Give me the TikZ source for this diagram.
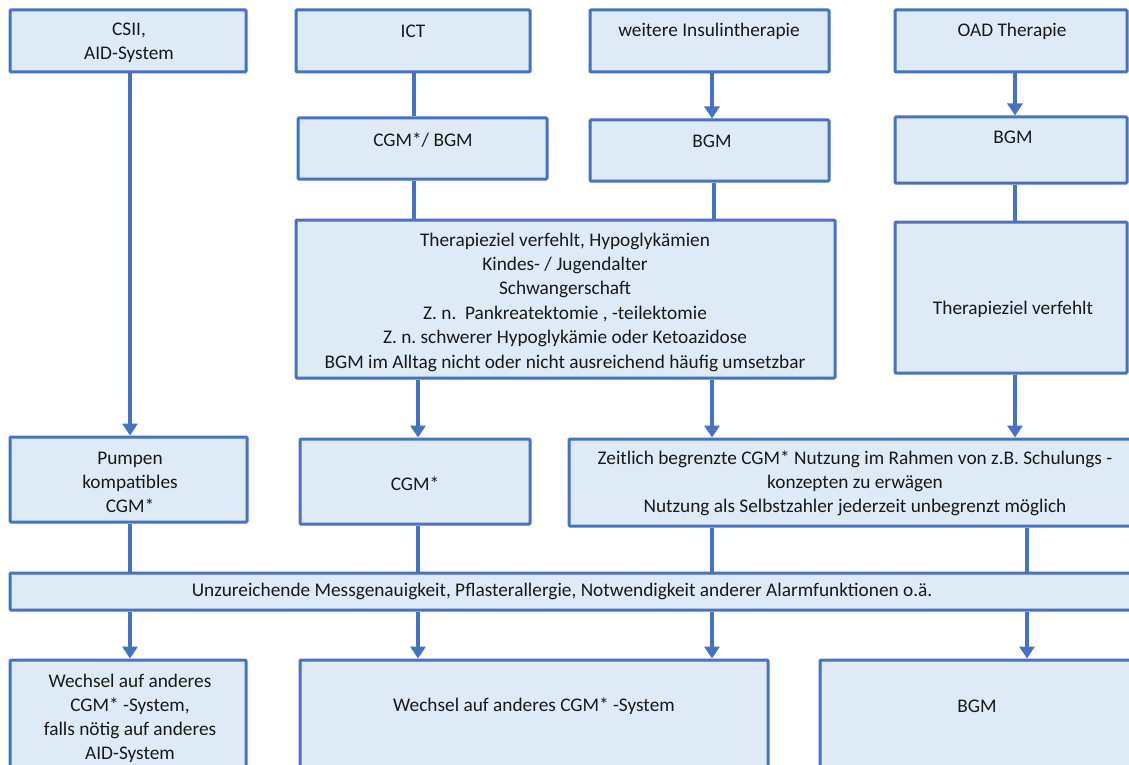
\documentclass[tikz,border=0pt]{standalone}
\usepackage{fontspec}
\setmainfont{Carlito}
\usetikzlibrary{arrows.meta}
\frenchspacing
\definecolor{boxfill}{HTML}{DEEAF6}
\definecolor{boxline}{HTML}{4472C4}
\tikzset{
  box/.style={draw=boxline, fill=boxfill, line width=3pt, rounded corners=1pt, inner sep=0pt},
  txt/.style={align=center, inner sep=0pt, font=\fontsize{19.3}{24}\selectfont\frenchspacing, text=black!90},
  conn/.style={draw=boxline, line width=4pt},
  arr/.style={conn, -{Triangle[width=15pt,length=12pt]}}
}
\begin{document}
\begin{tikzpicture}[x=1pt,y=-1pt]
\useasboundingbox (0,0) rectangle (1129,765);
\clip (0,0) rectangle (1129,765);
% coordinates for connector columns
\coordinate (c130) at (130,0);
\coordinate (c414) at (414,0);
\coordinate (c418) at (418,0);
\coordinate (c712) at (712,0);
\coordinate (c714) at (714,0);
\coordinate (c1015) at (1015,0);
\coordinate (c1027) at (1027,0);
% boxes
\node[box, minimum width=236, minimum height=62] (csii) at (128,41) {};
\node[box, minimum width=234, minimum height=62] (ict) at (413,41) {};
\node[box, minimum width=239, minimum height=62] (wei) at (709.5,41) {};
\node[box, minimum width=232, minimum height=62] (oad) at (1011,41) {};
\node[box, minimum width=249, minimum height=61] (cgmbgm) at (422.5,148.5) {};
\node[box, minimum width=239, minimum height=61] (bgmA) at (709.5,150.5) {};
\node[box, minimum width=232, minimum height=66] (bgmB) at (1011,150) {};
\node[box, minimum width=539, minimum height=158] (big) at (565.5,299) {};
\node[box, minimum width=232, minimum height=151] (ther) at (1011,297.5) {};
\node[box, minimum width=237, minimum height=85] (pump) at (128.5,479.5) {};
\node[box, minimum width=230, minimum height=85] (cgm) at (415,481.5) {};
\node[box, minimum width=571, minimum height=87] (zeit) at (854.5,482.5) {};
\node[box, minimum width=1130, minimum height=37] (bar) at (575,591.5) {};
\node[box, minimum width=236, minimum height=130] (wl) at (128,725) {};
\node[box, minimum width=468, minimum height=130] (wm) at (534,725) {};
\node[box, minimum width=320, minimum height=130] (bgmC) at (980,725) {};
% texts
\node[txt] (t-csii) at (129,43) {CSII,\\AID-System};
\node[txt] (t-ict) at (413,31) {ICT};
\node[txt] (t-wei) at (709,31) {weitere Insulintherapie};
\node[txt] (t-oad) at (1012,31) {OAD Therapie};
\node[txt] (t-cgmbgm) at (423,140) {CGM*/ BGM};
\node[txt] (t-bgmA) at (712,141) {BGM};
\node[txt] (t-bgmB) at (1013,137) {BGM};
\node[txt, font=\fontsize{19.3}{24.4}\selectfont\frenchspacing] (t-big) at (565,302) {Therapieziel verfehlt, Hypoglykämien\\Kindes- / Jugendalter\\Schwangerschaft\\Z. n.\ \ Pankreatektomie , -teilektomie\\Z. n. schwerer Hypoglykämie oder Ketoazidose\\BGM im Alltag nicht oder nicht ausreichend häufig umsetzbar};
\node[txt] (t-ther) at (1013,309) {Therapieziel verfehlt};
\node[txt] (t-pump) at (130,482) {Pumpen\\kompatibles\\CGM*};
\node[txt] (t-cgm) at (415,484) {CGM*};
\node[txt] (t-zeit) at (855,483) {Zeitlich begrenzte CGM* Nutzung im Rahmen von z.B. Schulungs -\\konzepten zu erwägen\\Nutzung als Selbstzahler jederzeit unbegrenzt möglich};
\node[txt] (t-bar) at (562,591) {Unzureichende Messgenauigkeit, Pflasterallergie, Notwendigkeit anderer Alarmfunktionen o.ä.};
\node[txt] (t-wl) at (130,718) {Wechsel auf anderes\\CGM* -System,\\falls nötig auf anderes\\AID-System};
\node[txt] (t-wm) at (534,706) {Wechsel auf anderes CGM* -System};
\node[txt] (t-bgmC) at (977,706) {BGM};
% connectors
\draw[arr] (csii.south -| c130) -- (pump.north -| c130);
\draw[conn] (ict.south -| c414) -- (cgmbgm.north -| c414);
\draw[conn] (cgmbgm.south -| c414) -- (big.north -| c414);
\draw[arr] (wei.south -| c712) -- (bgmA.north -| c712);
\draw[conn] (bgmA.south -| c714) -- (big.north -| c714);
\draw[arr] (oad.south -| c1015) -- (bgmB.north -| c1015);
\draw[conn] (bgmB.south -| c1015) -- (ther.north -| c1015);
\draw[arr] (big.south -| c418) -- (cgm.north -| c418);
\draw[arr] (big.south -| c712) -- (zeit.north -| c712);
\draw[arr] (ther.south -| c1015) -- (zeit.north -| c1015);
\draw[conn] (pump.south -| c130) -- (bar.north -| c130);
\draw[conn] (cgm.south -| c418) -- (bar.north -| c418);
\draw[conn] (zeit.south -| c712) -- (bar.north -| c712);
\draw[conn] (zeit.south -| c1027) -- (bar.north -| c1027);
\draw[arr] (bar.south -| c130) -- (wl.north -| c130);
\draw[arr] (bar.south -| c418) -- (wm.north -| c418);
\draw[arr] (bar.south -| c712) -- (wm.north -| c712);
\draw[arr] (bar.south -| c1027) -- (bgmC.north -| c1027);
\end{tikzpicture}
\end{document}
